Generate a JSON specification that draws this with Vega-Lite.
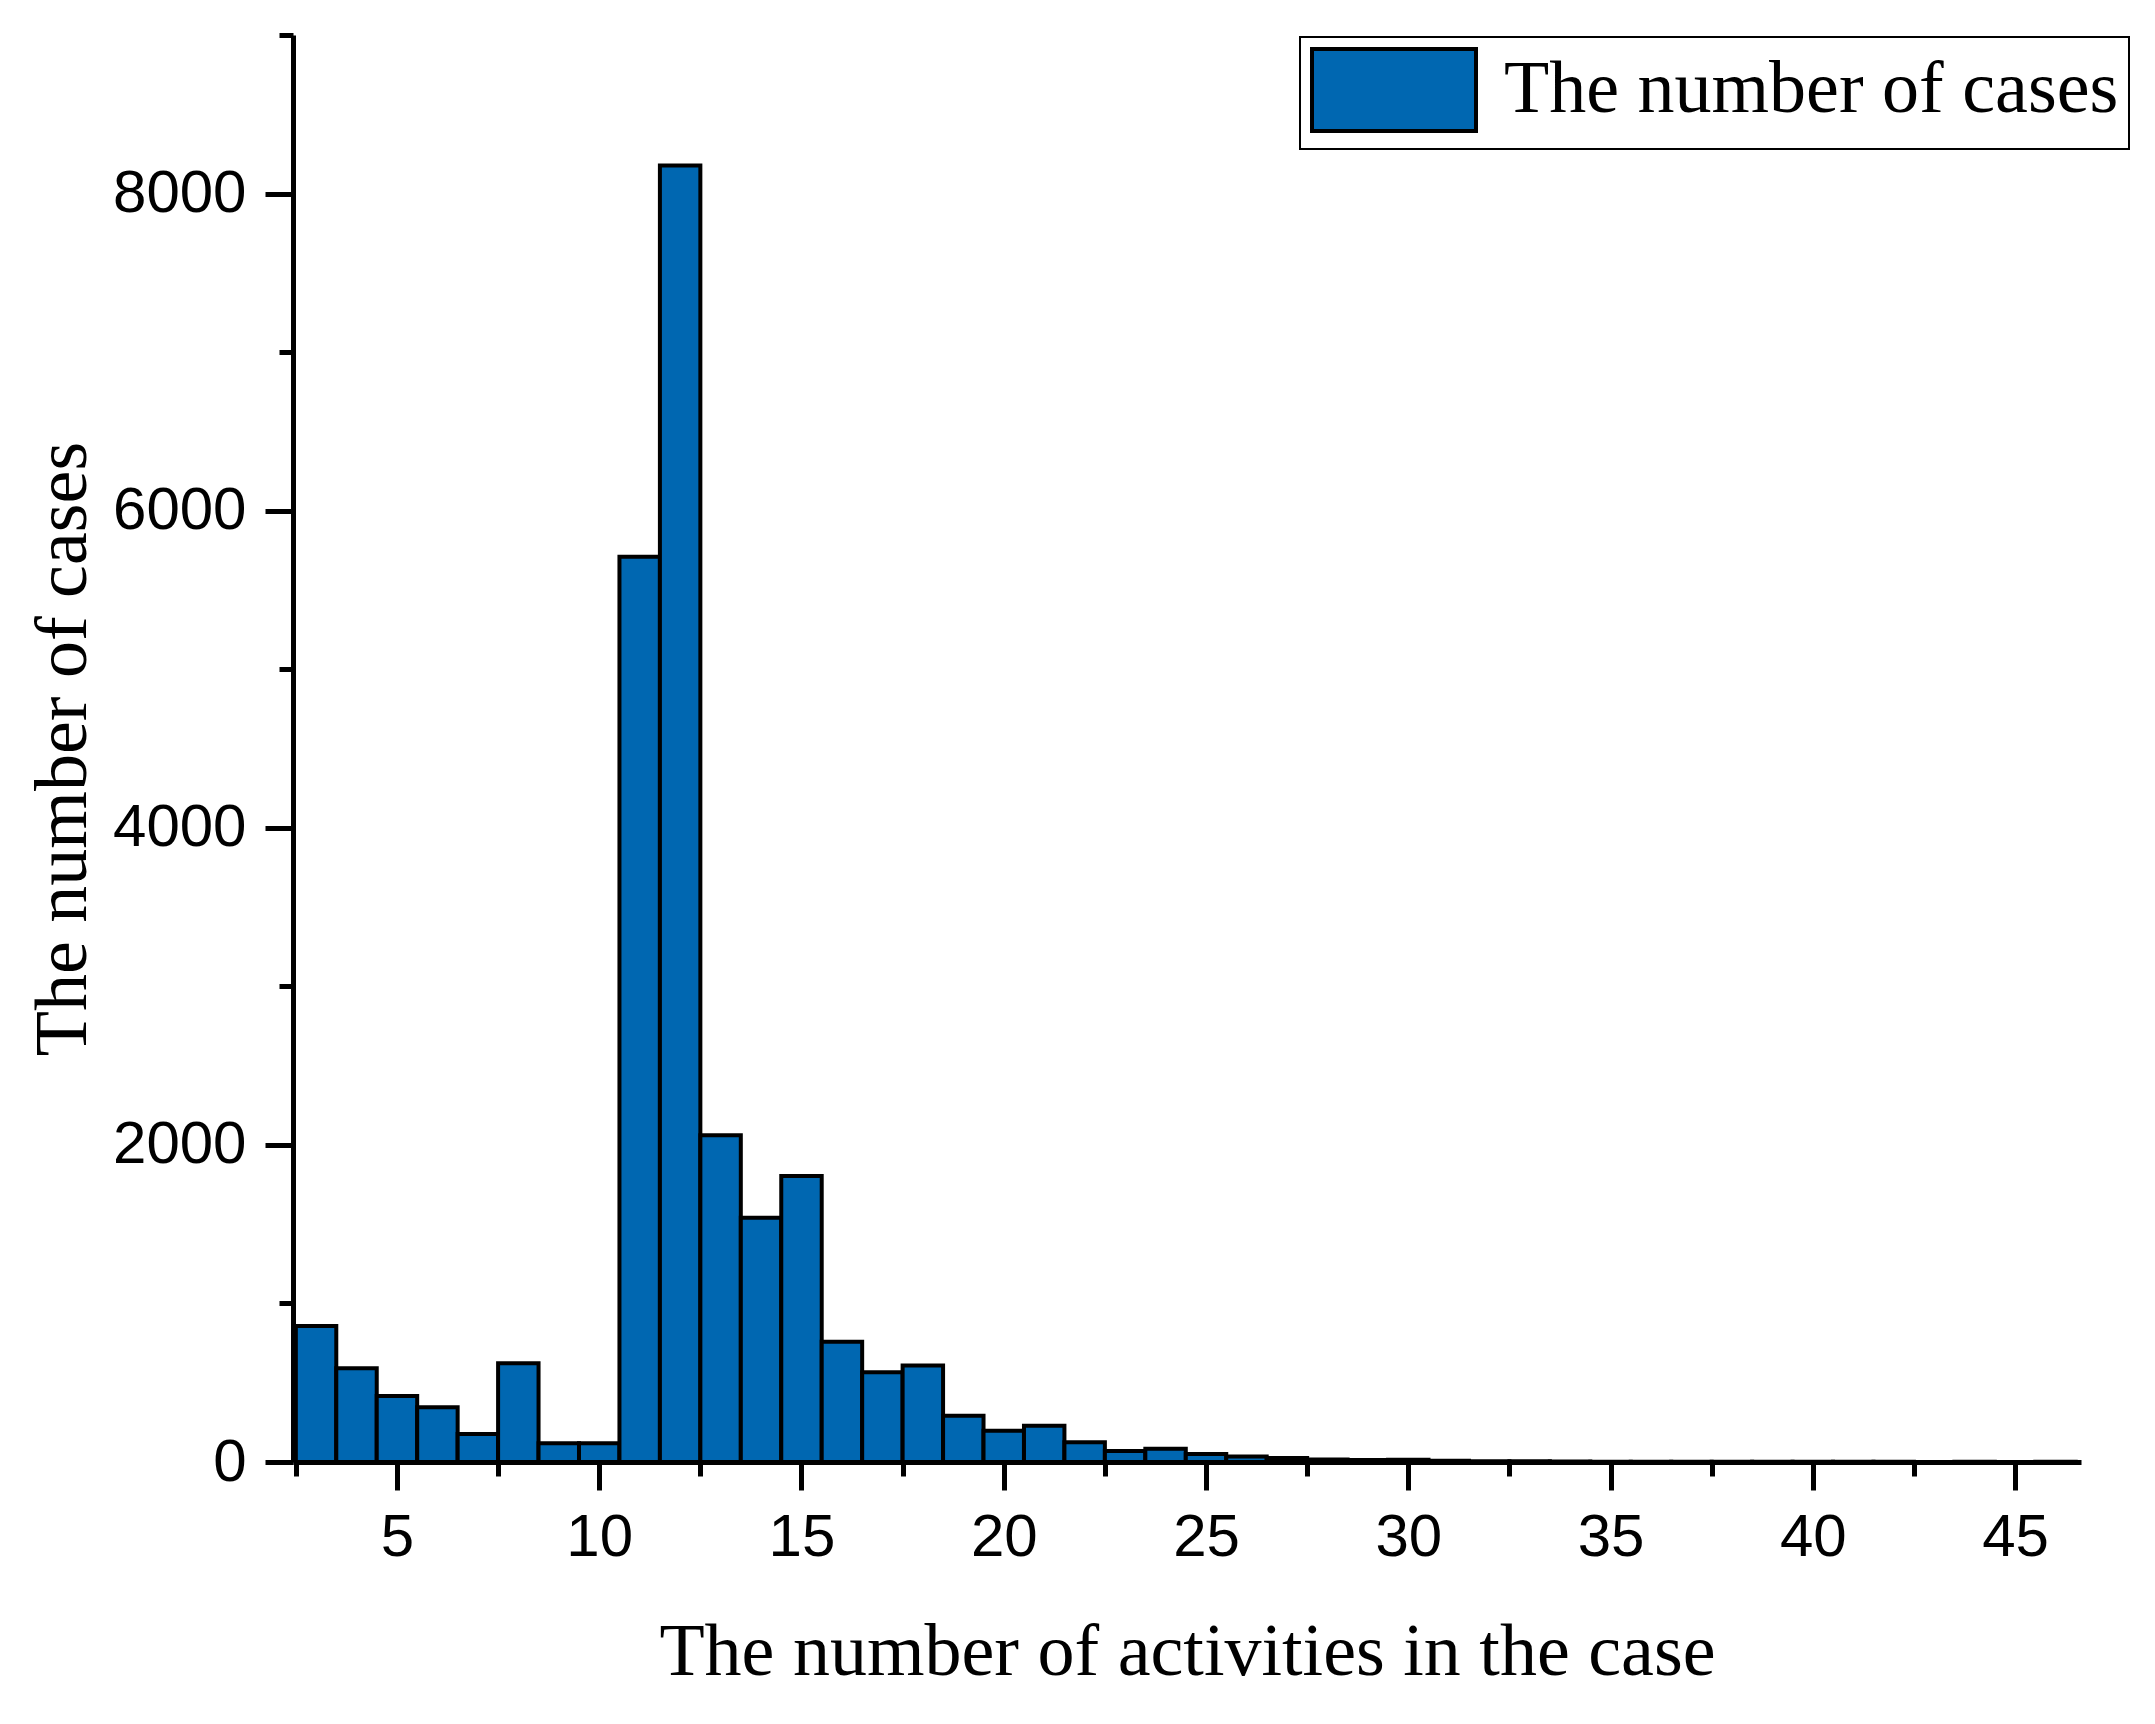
{
  "$schema": "https://vega.github.io/schema/vega-lite/v6.json",
  "width": 1788,
  "height": 1427,
  "autosize": {"type": "none"},
  "padding": {"left": 293, "top": 35, "right": 74, "bottom": 262},
  "background": "white",
  "data": {
    "values": [
      {"lo": 2.5, "hi": 3.5, "cases": 858},
      {"lo": 3.5, "hi": 4.5, "cases": 591},
      {"lo": 4.5, "hi": 5.5, "cases": 416},
      {"lo": 5.5, "hi": 6.5, "cases": 345},
      {"lo": 6.5, "hi": 7.5, "cases": 177},
      {"lo": 7.5, "hi": 8.5, "cases": 623},
      {"lo": 8.5, "hi": 9.5, "cases": 118},
      {"lo": 9.5, "hi": 10.5, "cases": 118},
      {"lo": 10.5, "hi": 11.5, "cases": 5710},
      {"lo": 11.5, "hi": 12.5, "cases": 8177},
      {"lo": 12.5, "hi": 13.5, "cases": 2061},
      {"lo": 13.5, "hi": 14.5, "cases": 1541},
      {"lo": 14.5, "hi": 15.5, "cases": 1804},
      {"lo": 15.5, "hi": 16.5, "cases": 759},
      {"lo": 16.5, "hi": 17.5, "cases": 566},
      {"lo": 17.5, "hi": 18.5, "cases": 608},
      {"lo": 18.5, "hi": 19.5, "cases": 292},
      {"lo": 19.5, "hi": 20.5, "cases": 197},
      {"lo": 20.5, "hi": 21.5, "cases": 229},
      {"lo": 21.5, "hi": 22.5, "cases": 125},
      {"lo": 22.5, "hi": 23.5, "cases": 69},
      {"lo": 23.5, "hi": 24.5, "cases": 84},
      {"lo": 24.5, "hi": 25.5, "cases": 50},
      {"lo": 25.5, "hi": 26.5, "cases": 34},
      {"lo": 26.5, "hi": 27.5, "cases": 25},
      {"lo": 27.5, "hi": 28.5, "cases": 16},
      {"lo": 28.5, "hi": 29.5, "cases": 12},
      {"lo": 29.5, "hi": 30.5, "cases": 14},
      {"lo": 30.5, "hi": 31.5, "cases": 8},
      {"lo": 31.5, "hi": 32.5, "cases": 5},
      {"lo": 32.5, "hi": 33.5, "cases": 4},
      {"lo": 33.5, "hi": 34.5, "cases": 3},
      {"lo": 34.5, "hi": 35.5, "cases": 2},
      {"lo": 35.5, "hi": 36.5, "cases": 2},
      {"lo": 36.5, "hi": 37.5, "cases": 1},
      {"lo": 37.5, "hi": 38.5, "cases": 1},
      {"lo": 38.5, "hi": 39.5, "cases": 1},
      {"lo": 39.5, "hi": 40.5, "cases": 1},
      {"lo": 40.5, "hi": 41.5, "cases": 1},
      {"lo": 41.5, "hi": 42.5, "cases": 1},
      {"lo": 42.5, "hi": 43.5, "cases": 0},
      {"lo": 43.5, "hi": 44.5, "cases": 1},
      {"lo": 44.5, "hi": 45.5, "cases": 0},
      {"lo": 45.5, "hi": 46.5, "cases": 1}
    ]
  },
  "layer": [
    {
      "mark": {"type": "bar", "stroke": "black", "strokeWidth": 4},
      "encoding": {
        "x": {
          "field": "lo",
          "type": "quantitative",
          "scale": {"domain": [2.43, 46.63], "nice": false, "zero": false},
          "axis": {
            "orient": "bottom",
            "values": [5, 10, 15, 20, 25, 30, 35, 40, 45],
            "tickSize": 28,
            "labelPadding": 18,
            "title": "The number of activities in the case",
            "titleBaseline": "alphabetic",
            "titleY": 212
          }
        },
        "x2": {"field": "hi"},
        "y": {
          "field": "cases",
          "type": "quantitative",
          "scale": {"domain": [0, 9000], "nice": false},
          "axis": {
            "orient": "left",
            "values": [0, 2000, 4000, 6000, 8000],
            "format": "d",
            "tickSize": 28,
            "labelPadding": 19,
            "title": "The number of cases",
            "titleBaseline": "alphabetic",
            "titleX": -208
          }
        },
        "y2": {"datum": 0},
        "fill": {
          "datum": "The number of cases",
          "type": "nominal",
          "scale": {"range": ["#0067B1"]},
          "legend": {
            "title": null,
            "orient": "none",
            "legendX": 1007,
            "legendY": 2,
            "symbolType": "M-1,-1H3V1H-1Z",
            "symbolSize": 6724,
            "symbolStrokeColor": "black",
            "symbolStrokeWidth": 4,
            "labelOffset": 108,
            "labelLimit": 2000,
            "padding": 10,
            "strokeColor": "black",
            "fillColor": "white"
          }
        }
      }
    },
    {
      "mark": {"type": "bar", "opacity": 0},
      "encoding": {
        "x": {
          "field": "lo",
          "type": "quantitative",
          "axis": {
            "orient": "bottom",
            "values": [2.5, 7.5, 12.5, 17.5, 22.5, 27.5, 32.5, 37.5, 42.5],
            "labels": false,
            "domain": false,
            "tickSize": 14,
            "title": null
          }
        },
        "x2": {"field": "hi"},
        "y": {
          "field": "cases",
          "type": "quantitative",
          "axis": {
            "orient": "left",
            "values": [1000, 3000, 5000, 7000, 9000],
            "labels": false,
            "domain": false,
            "tickSize": 14,
            "title": null
          }
        },
        "y2": {"datum": 0}
      }
    }
  ],
  "resolve": {"axis": {"x": "independent", "y": "independent"}},
  "config": {
    "view": {"stroke": null},
    "axis": {
      "grid": false,
      "domainColor": "black",
      "domainWidth": 5,
      "tickColor": "black",
      "tickWidth": 5,
      "labelColor": "black",
      "labelFont": "Liberation Sans",
      "labelFontSize": 60,
      "titleColor": "black",
      "titleFont": "Liberation Serif",
      "titleFontSize": 74,
      "titleFontWeight": "normal"
    },
    "legend": {
      "labelFont": "Liberation Serif",
      "labelFontSize": 74,
      "labelColor": "black",
      "strokeWidth": 2
    }
  }
}
